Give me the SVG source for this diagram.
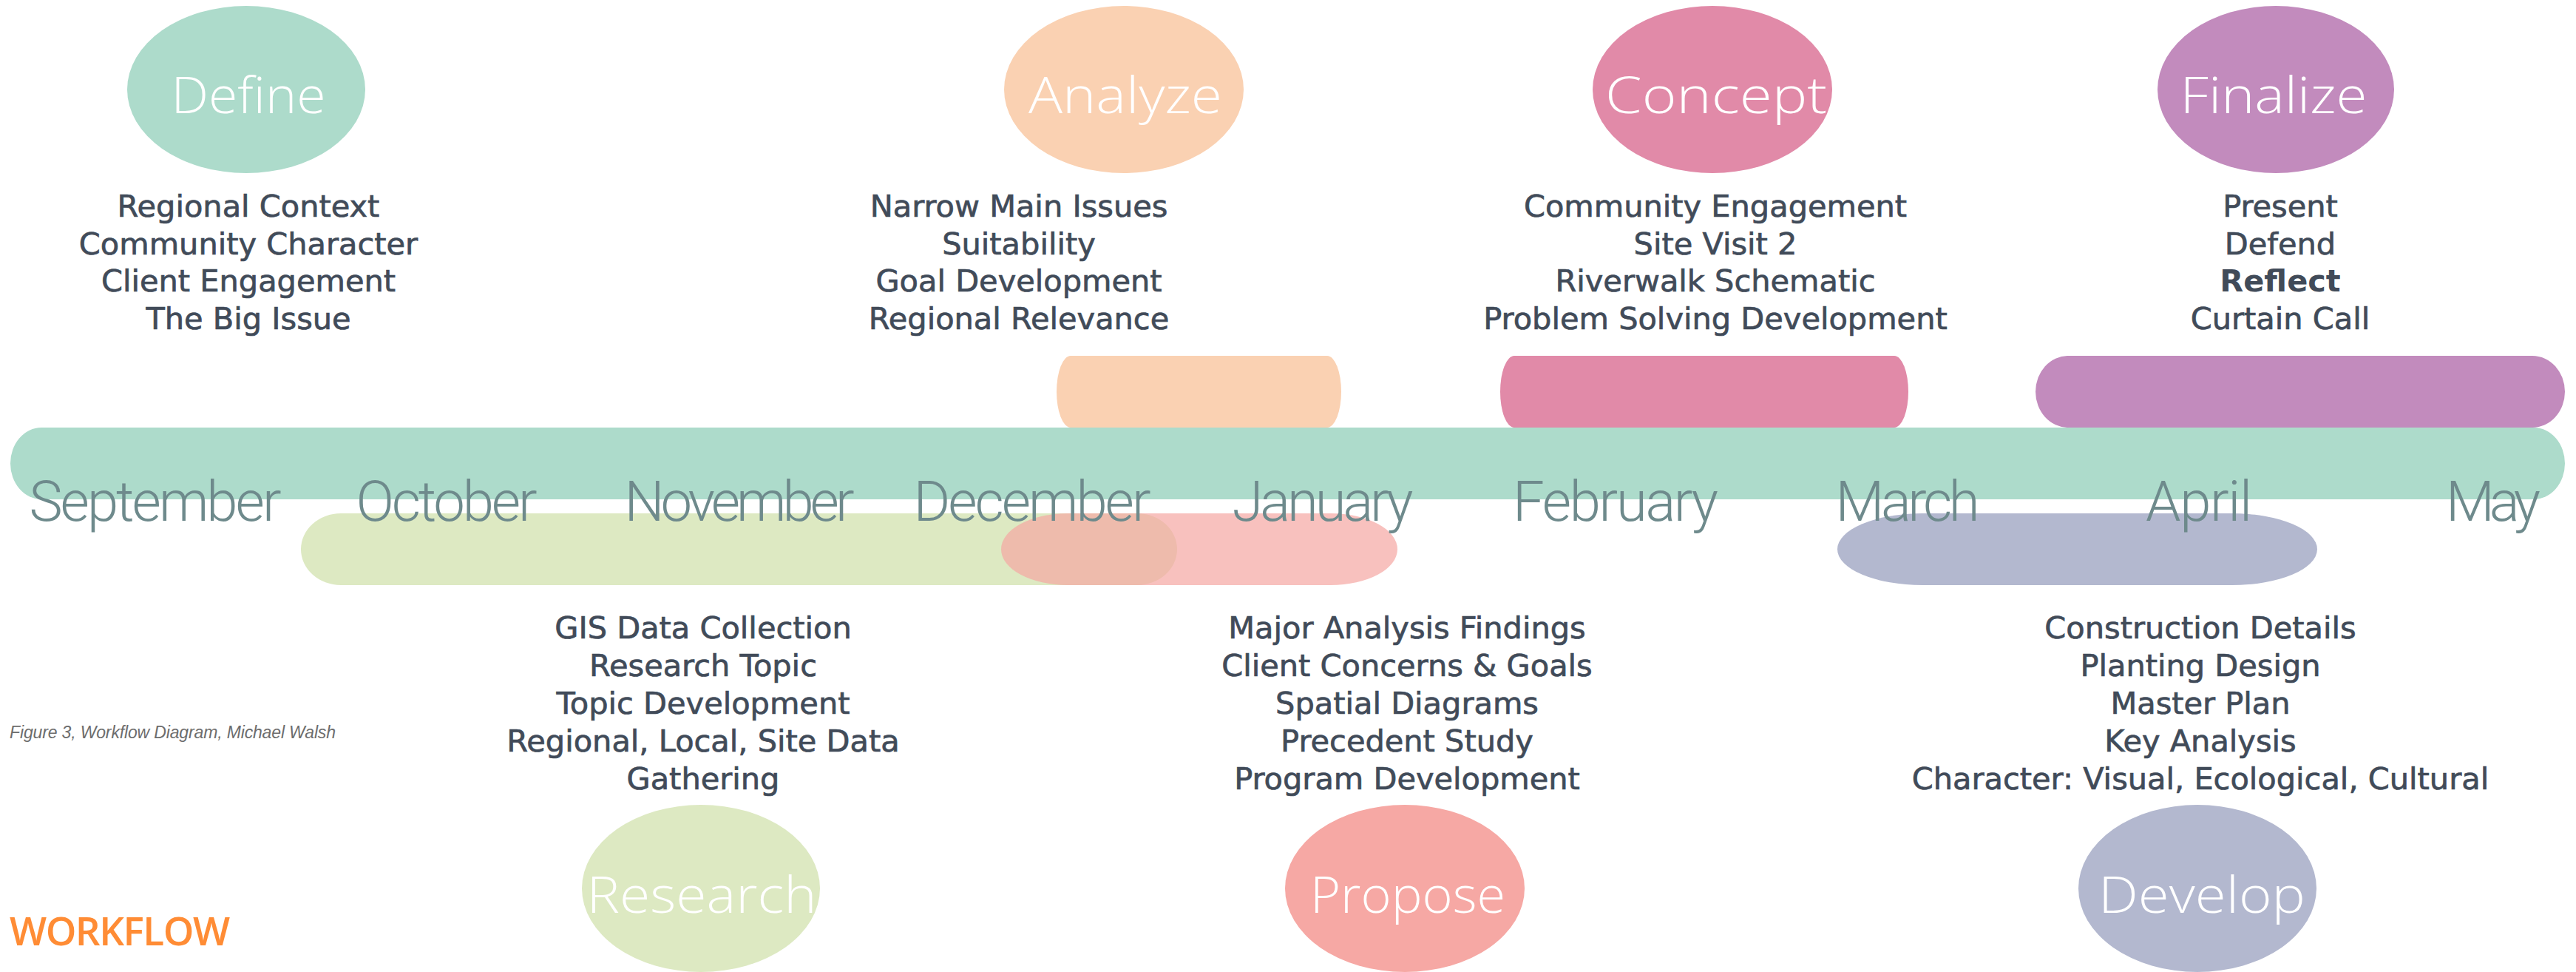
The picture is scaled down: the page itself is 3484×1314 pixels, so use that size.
<svg xmlns="http://www.w3.org/2000/svg" width="3484" height="1314" viewBox="0 0 3484 1314">
  <style>
    .phase { font-family: "Open Sans", "Lato", "DejaVu Sans", sans-serif; font-weight: 300; font-size: 68px; fill: #ffffff; text-anchor: middle; }
    .item { font-family: "DejaVu Sans", "Open Sans", sans-serif; font-weight: 400; font-size: 41.5px; fill: #414b59; stroke: #414b59; stroke-width: 0.7px; text-anchor: middle; }
    .item .em { font-weight: 700; stroke-width: 0; }
    .month { font-family: "Roboto", "Open Sans", sans-serif; font-weight: 300; font-size: 76px; fill: #6e8a8c; text-anchor: middle; }
    .caption { font-family: "Liberation Sans", Arial, sans-serif; font-style: italic; font-size: 23px; fill: #6d6d6d; }
    .title { font-family: "Open Sans", "Liberation Sans", sans-serif; font-weight: 600; font-size: 53px; fill: #ff8c35; }
  </style>

  <rect width="3484" height="1314" fill="#ffffff"/>

  <!-- main timeline bar -->
  <g id="timeline">
    <rect x="14" y="578" width="3455" height="97" rx="42" ry="48.5" fill="#addbcb"/>
  </g>

  <!-- upper phases -->
  <g id="define">
    <ellipse cx="333" cy="121" rx="161" ry="113" fill="#addbcb"/>
    <text class="phase" x="336" y="153" textLength="209" lengthAdjust="spacingAndGlyphs">Define</text>
    <text class="item" x="336" y="293">Regional Context</text>
    <text class="item" x="336" y="344">Community Character</text>
    <text class="item" x="336" y="394">Client Engagement</text>
    <text class="item" x="336" y="445">The Big Issue</text>
  </g>

  <g id="analyze">
    <rect x="1429" y="481" width="385" height="97" rx="19" ry="48.5" fill="#fad1b2"/>
    <ellipse cx="1520" cy="121" rx="162" ry="113" fill="#fad1b2"/>
    <text class="phase" x="1522" y="153" textLength="262" lengthAdjust="spacingAndGlyphs">Analyze</text>
    <text class="item" x="1378" y="293">Narrow Main Issues</text>
    <text class="item" x="1378" y="344">Suitability</text>
    <text class="item" x="1378" y="394">Goal Development</text>
    <text class="item" x="1378" y="445">Regional Relevance</text>
  </g>

  <g id="concept">
    <rect x="2029" y="481" width="552" height="97" rx="19" ry="48.5" fill="#e18aa8"/>
    <ellipse cx="2316" cy="121" rx="162" ry="113" fill="#e18aa8"/>
    <text class="phase" x="2321" y="153" textLength="300" lengthAdjust="spacingAndGlyphs">Concept</text>
    <text class="item" x="2320" y="293">Community Engagement</text>
    <text class="item" x="2320" y="344">Site Visit 2</text>
    <text class="item" x="2320" y="394">Riverwalk Schematic</text>
    <text class="item" x="2320" y="445">Problem Solving Development</text>
  </g>

  <g id="finalize">
    <rect x="2753" y="481" width="716" height="97" rx="44" ry="48.5" fill="#c28bbd"/>
    <ellipse cx="3078" cy="121" rx="160" ry="113" fill="#c28bbd"/>
    <text class="phase" x="3075" y="153" textLength="253" lengthAdjust="spacingAndGlyphs">Finalize</text>
    <text class="item" x="3084" y="293">Present</text>
    <text class="item" x="3084" y="344">Defend</text>
    <text class="item" x="3084" y="394"><tspan class="em">Reflect</tspan></text>
    <text class="item" x="3084" y="445">Curtain Call</text>
  </g>

  <!-- lower phases -->
  <g id="research">
    <rect x="407" y="694" width="1185" height="97" rx="54" ry="48.5" fill="#dde9c2"/>
    <ellipse cx="948" cy="1201" rx="161" ry="113" fill="#dde9c2"/>
    <text class="phase" x="949" y="1234" textLength="311" lengthAdjust="spacingAndGlyphs">Research</text>
    <text class="item" x="951" y="863">GIS Data Collection</text>
    <text class="item" x="951" y="914">Research Topic</text>
    <text class="item" x="951" y="965">Topic Development</text>
    <text class="item" x="951" y="1016">Regional, Local, Site Data</text>
    <text class="item" x="951" y="1067">Gathering</text>
  </g>

  <g id="propose">
    <rect x="1354" y="694" width="536" height="97" rx="90" ry="48.5" fill="#f5a6a2" fill-opacity="0.7"/>
    <ellipse cx="1900" cy="1201" rx="162" ry="113" fill="#f6a8a4"/>
    <text class="phase" x="1904" y="1234" textLength="264" lengthAdjust="spacingAndGlyphs">Propose</text>
    <text class="item" x="1903" y="863">Major Analysis Findings</text>
    <text class="item" x="1903" y="914">Client Concerns &amp; Goals</text>
    <text class="item" x="1903" y="965">Spatial Diagrams</text>
    <text class="item" x="1903" y="1016">Precedent Study</text>
    <text class="item" x="1903" y="1067">Program Development</text>
  </g>

  <g id="develop">
    <rect x="2485" y="694" width="649" height="97" rx="115" ry="48.5" fill="#b3b8cf"/>
    <ellipse cx="2972" cy="1201" rx="161" ry="113" fill="#b3b8cf"/>
    <text class="phase" x="2978" y="1234" textLength="280" lengthAdjust="spacingAndGlyphs">Develop</text>
    <text class="item" x="2976" y="863">Construction Details</text>
    <text class="item" x="2976" y="914">Planting Design</text>
    <text class="item" x="2976" y="965">Master Plan</text>
    <text class="item" x="2976" y="1016">Key Analysis</text>
    <text class="item" x="2976" y="1067">Character: Visual, Ecological, Cultural</text>
  </g>

  <!-- month labels along the timeline -->
  <g id="months">
    <text class="month" x="210" y="704" textLength="341">September</text>
    <text class="month" x="604" y="704" textLength="245">October</text>
    <text class="month" x="1000" y="704" textLength="311">November</text>
    <text class="month" x="1396" y="704" textLength="321">December</text>
    <text class="month" x="1789" y="704" textLength="245">January</text>
    <text class="month" x="2185" y="704" textLength="278">February</text>
    <text class="month" x="2580" y="704" textLength="195">March</text>
    <text class="month" x="2974" y="704" textLength="144">April</text>
    <text class="month" x="3372" y="704" textLength="128">May</text>
  </g>

  <text class="caption" x="13" y="998" textLength="441">Figure 3, Workflow Diagram, Michael Walsh</text>
  <text class="title" x="13" y="1278" textLength="298">WORKFLOW</text>
</svg>
